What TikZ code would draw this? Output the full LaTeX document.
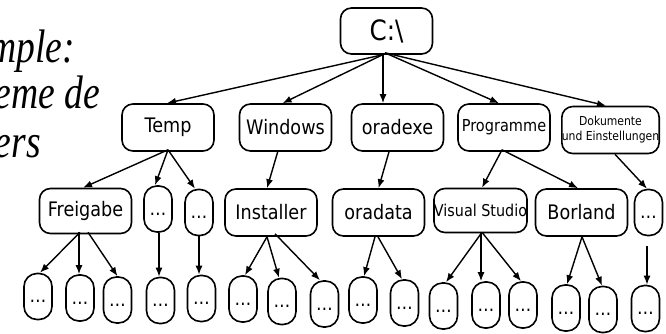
\documentclass[tikz,border=0pt]{standalone}
\usepackage{fontspec}
\usetikzlibrary{arrows.meta}
\newfontfamily\lblfont[FakeStretch=0.88]{DejaVu Sans}
\newfontfamily\ttlfont[FakeStretch=0.8]{Liberation Serif}

\begin{document}
\begin{tikzpicture}[x=1pt,y=-1pt,
  box/.style={draw, line width=1.6pt, rounded corners=11pt, inner sep=0pt,
    minimum width=92pt, minimum height=47pt,
    font=\lblfont\fontsize{20}{24}\selectfont},
  pill/.style={draw, line width=1.6pt, rounded corners=13pt, inner sep=0pt,
    minimum width=28pt, minimum height=46pt, text height=15pt, text depth=3pt,
    font=\lblfont\fontsize{19}{22}\selectfont},
  title/.style={inner sep=0pt, anchor=base east,
    font=\ttlfont\itshape\fontsize{47}{50}\selectfont},
  link/.style={line width=1.4pt, -{Latex[length=9pt,width=7pt]}}]

\useasboundingbox (0,0) rectangle (666,333);
\clip (0,0) rectangle (666,333);

% heading, running off the left edge
\node[title] (t1) at (75,62) {mple:};
\node[title] (t2) at (100,108) {eme de};
\node[title] (t3) at (41,157) {ers};

% root
\node[box, minimum width=92pt, minimum height=46pt,
  font=\lblfont\fontsize{28}{30}\selectfont] (root) at (386.5,31) {C:\textbackslash};

% first level
\node[box] (temp) at (168,127.5) {Temp};
\node[box] (win)  at (285.5,127.5) {Windows};
\node[box] (orx)  at (397.5,127.5) {oradexe};
\node[box, font=\lblfont\fontsize{16.5}{20}\selectfont] (prog) at (504,127.5) {Programme};
\node[box, align=center, font=\lblfont\fontsize{12.3}{15}\selectfont] (doc) at (610.5,130)
  {Dokumente\\und Einstellungen};

% second level
\node[box, minimum height=45pt] (frei) at (85.5,211) {Freigabe};
\node[pill] (d1) at (158,209) {…};
\node[pill] (d2) at (199,212.5) {…};
\node[box] (inst) at (271,212.5) {Installer};
\node[box] (ord)  at (378.5,212.5) {oradata};
\node[box, minimum height=44pt, font=\lblfont\fontsize{16.3}{20}\selectfont] (vs) at (480.5,210.5) {Visual Studio};
\node[box] (bor)  at (581.5,212.5) {Borland};
\node[pill] (d3) at (648.5,212.5) {…};

% third level
\node[pill] (n1)  at (38,296.5)  {…};
\node[pill] (n2)  at (80,298)    {…};
\node[pill] (n3)  at (117.5,300) {…};
\node[pill] (n4)  at (160.5,300.5) {…};
\node[pill] (n5)  at (201.5,298.5) {…};
\node[pill] (n6)  at (243,299)   {…};
\node[pill] (n7)  at (282,301.5) {…};
\node[pill] (n8)  at (324.5,304) {…};
\node[pill] (n9)  at (363,300)   {…};
\node[pill] (n10) at (404.5,303) {…};
\node[pill] (n11) at (443.5,306) {…};
\node[pill] (n12) at (486,305)   {…};
\node[pill] (n13) at (523,305)   {…};
\node[pill] (n14) at (566,308)   {…};
\node[pill] (n15) at (603,309.5) {…};
\node[pill] (n16) at (645.5,308.5) {…};

% root connectors
\draw[link] ([xshift=-4pt]root.south) -- ([xshift=-1pt]temp.north);
\draw[link] ([xshift=-4pt]root.south) -- ([xshift=-3pt]win.north);
\draw[link] ([xshift=-3.5pt]root.south) -- ([xshift=-14.5pt]orx.north);
\draw[link] ([xshift=-1.5pt,yshift=2pt]root.south) -- ([xshift=-5pt]prog.north);
\draw[link] ([xshift=-1.5pt,yshift=2pt]root.south) -- ([xshift=-4.5pt]doc.north);

% first level connectors
\draw[link] ([yshift=2pt]temp.south) -- ([xshift=-2.5pt]frei.north);
\draw[link] ([yshift=2pt]temp.south) -- ([xshift=-3pt]d1.north);
\draw[link] ([yshift=2pt]temp.south) -- ([xshift=-4pt]d2.north);
\draw[link] ([xshift=-7.5pt,yshift=1pt]win.south) -- ([xshift=-4pt]inst.north);
\draw[link] ([xshift=-8.5pt]orx.south) -- (ord.north);
\draw[link] ([xshift=-2pt,yshift=2pt]prog.south) -- ([xshift=1.5pt]vs.north);
\draw[link] ([xshift=-2pt,yshift=2pt]prog.south) -- ([xshift=-3.5pt]bor.north);
\draw[link] ([xshift=4.5pt]doc.south) -- ([xshift=-1.5pt]d3.north);

% second level connectors
\draw[link] ([xshift=-5.5pt,yshift=2pt]frei.south) -- ([xshift=2pt]n1.north);
\draw[link] ([xshift=-6.5pt,yshift=2pt]frei.south) -- ([xshift=-1pt]n2.north);
\draw[link] ([xshift=2.5pt,yshift=2pt]frei.south) -- (n3.north);
\draw[link] ([xshift=1pt]d1.south) -- ([xshift=-1.5pt]n4.north);
\draw[link] (d2.south) -- ([xshift=-2.5pt]n5.north);
\draw[link] ([xshift=-4pt]inst.south) -- ([xshift=2pt]n6.north);
\draw[link] ([xshift=-4pt]inst.south) -- ([xshift=-3pt]n7.north);
\draw[link] ([xshift=4pt,yshift=3pt]inst.south) -- ([xshift=-4.5pt]n8.north);
\draw[link] ([xshift=-3.5pt]ord.south) -- ([xshift=1pt]n9.north);
\draw[link] ([xshift=-0.5pt]ord.south) -- ([xshift=-2.5pt]n10.north);
\draw[link] ([xshift=1.5pt,yshift=1pt]vs.south) -- ([xshift=2.5pt]n11.north);
\draw[link] ([xshift=0.5pt,yshift=1pt]vs.south) -- ([xshift=-5pt]n12.north);
\draw[link] ([xshift=1.5pt,yshift=1pt]vs.south) -- ([xshift=-2pt]n13.north);
\draw[link] ([xshift=0.5pt]bor.south) -- ([xshift=1pt]n14.north);
\draw[link] ([xshift=0.5pt]bor.south) -- ([xshift=-1pt]n15.north);
\draw[link] ([xshift=-1.5pt,yshift=-10pt]d3.south) -- ([xshift=1.5pt]n16.north);
\end{tikzpicture}
\end{document}
